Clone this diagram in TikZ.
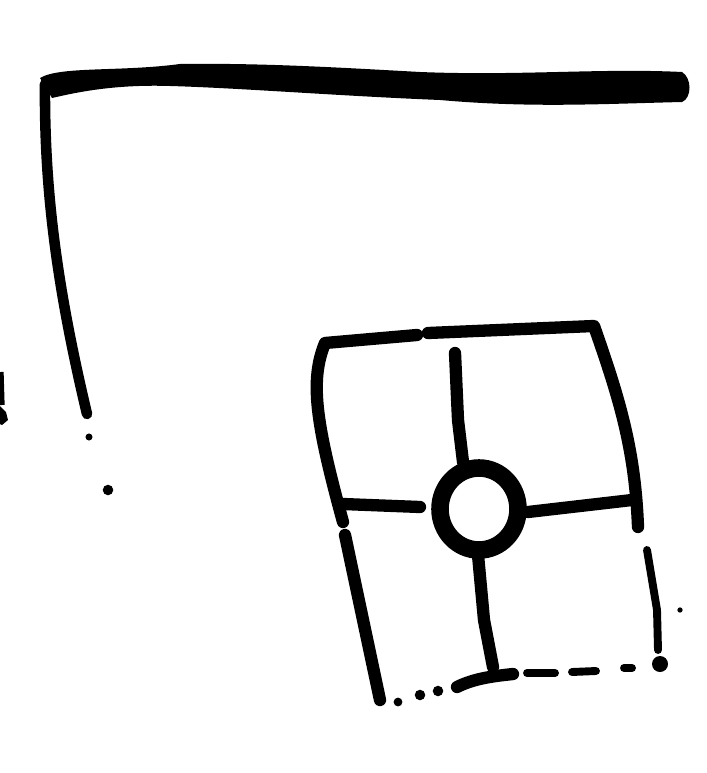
\documentclass[tikz,border=0pt]{standalone}
\usetikzlibrary{positioning}

\begin{document}
\begin{tikzpicture}[x=0.02cm, y=-0.02cm,
  pen/.style={line width=7pt, line cap=round, line join=round},
  thin pen/.style={line width=4.5pt, line cap=round},
  dot/.style={circle, fill, inner sep=0pt, minimum size=#1}
]
\useasboundingbox (0,0) rectangle (706,773);

% --- box corners ---
\coordinate (tl) at (325,343);
\coordinate (tr) at (594,326);
\coordinate (br) at (660,664);
\coordinate (bl) at (380,700);

% --- inner ring ---
\coordinate (ring) at (479,509);

% --- top bar, thick and ragged ---
\fill (40,78) .. controls (60,66) and (120,72) .. (180,64)
  .. controls (260,63) and (330,67) .. (420,72)
  .. controls (520,76) and (600,68) .. (682,72)
  .. controls (692,78) and (692,98) .. (682,102)
  .. controls (600,104) and (530,108) .. (440,100)
  .. controls (340,96) and (240,88) .. (170,86)
  .. controls (110,84) and (70,94) .. (52,98) -- cycle;

% --- left post ---
\draw[pen, line width=6pt] (45,84) .. controls (44,200) and (60,300) .. (87,414);
\node[dot=4pt] (d1) at (89,437) {};
\node[dot=6pt] (d2) at (108,490) {};

% stray mark at the left edge
\draw[line width=3pt] (1,372) -- (2,405);
\fill (0,406) -- (6,412) -- (8,420) -- (2,425) -- (0,424) -- cycle;

% --- box outline ---
\draw[pen] (417,335) -- (tl) .. controls (310,380) and (315,420) .. (343,522);
\draw[pen] (428,333) -- (tr) .. controls (620,400) and (635,450) .. (638,527);
\draw[pen] (345,535) -- (bl);
\draw[thin pen] (647,550) -- (657,610) -- (658,650);
\fill (br) circle (8);
\node[dot=3pt] (d3) at (680,610) {};

% bottom edge, broken
\node[dot=5pt] (b1) at (398,702) {};
\node[dot=6pt] (b2) at (420,695) {};
\node[dot=6pt] (b3) at (438,691) {};
\draw[pen] (457,687) .. controls (475,678) and (495,676) .. (513,674);
\draw[thin pen] (527,673) -- (555,673);
\draw[thin pen] (572,672) -- (596,671);
\draw[thin pen] (624,668) -- (632,668);

% --- cross bars ---
\draw[pen] (343,504) -- (420,507);
\draw[pen] (528,512) -- (632,500);
\draw[pen] (455,353) -- (458,420) -- (463,462);
\draw[pen] (478,555) -- (484,620) -- (493,667);

% --- ring ---
\draw[line width=10pt] (ring) ellipse (39 and 41);

\end{tikzpicture}
\end{document}
